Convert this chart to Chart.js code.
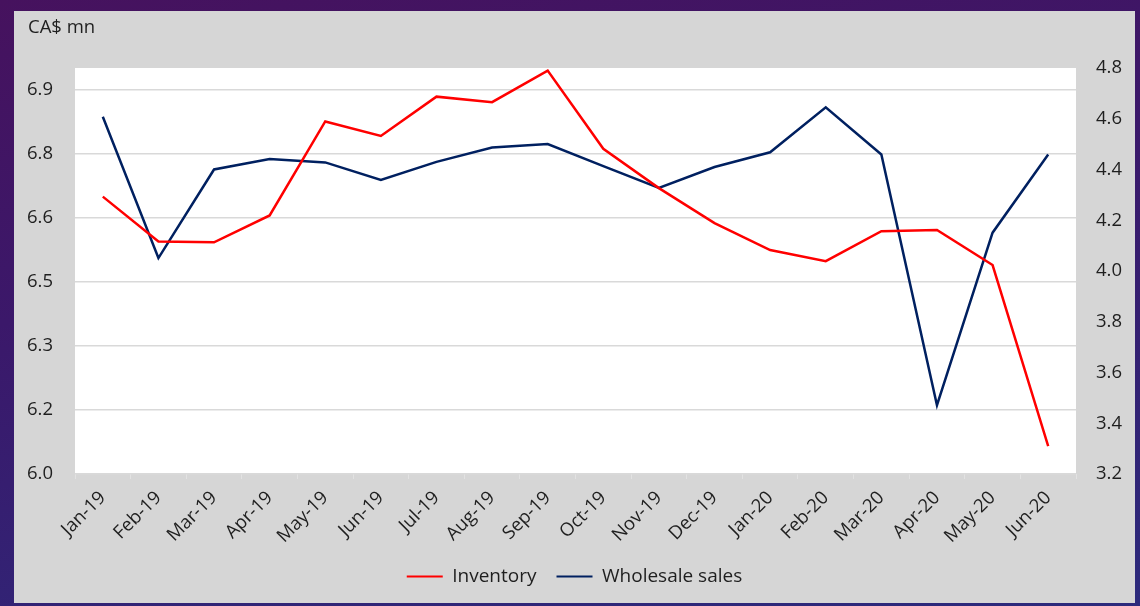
<!DOCTYPE html>
<html>
<head>
<meta charset="utf-8">
<script src="https://cdn.jsdelivr.net/npm/chart.js@4.4.1/dist/chart.umd.min.js"></script>
<style>
  html, body { margin: 0; padding: 0; width: 1140px; height: 606px; overflow: hidden; }
  body { background: linear-gradient(170deg, #46125e 0%, #3b186a 40%, #2c2a7c 100%); }
  #panel { position: absolute; left: 14px; top: 11px; width: 1121px; height: 592px; background: #d6d6d6; }
  canvas { display: block; }
</style>
</head>
<body>
<div id="panel"><canvas id="chart" width="1121" height="592"></canvas></div>
<script>
// Monthly categories
const months = ['Jan-19','Feb-19','Mar-19','Apr-19','May-19','Jun-19','Jul-19','Aug-19','Sep-19',
                'Oct-19','Nov-19','Dec-19','Jan-20','Feb-20','Mar-20','Apr-20','May-20','Jun-20'];

// Inventory (left axis)
const inventory = [6.649, 6.544, 6.542, 6.605, 6.825, 6.791, 6.883, 6.870, 6.944,
                   6.761, 6.669, 6.587, 6.524, 6.498, 6.568, 6.571, 6.489, 6.065];

// Wholesale sales (right axis)
const wholesaleSales = [4.608, 4.051, 4.400, 4.441, 4.428, 4.359, 4.430, 4.487, 4.500,
                        4.413, 4.327, 4.410, 4.468, 4.645, 4.459, 3.471, 4.151, 4.459];

// Axis ticks
const leftTickValues = [6.0, 6.15, 6.3, 6.45, 6.6, 6.75, 6.9];
const leftTickLabels = ['6.0', '6.2', '6.3', '6.5', '6.6', '6.8', '6.9'];
const rightTickValues = [3.2, 3.4, 3.6, 3.8, 4.0, 4.2, 4.4, 4.6, 4.8];
const rightTickLabels = ['3.2', '3.4', '3.6', '3.8', '4.0', '4.2', '4.4', '4.6', '4.8'];
const unitLabel = 'CA$ mn';

const FONT = "'Open Sans', 'Noto Sans', sans-serif";
const TEXT = '#1f1f1f';
const RED = '#ff0000';
const NAVY = '#002060';
const TICK_SIZE = 18.5;

// White plot area
const plotBackground = {
  id: 'plotBackground',
  beforeDraw(chart) {
    const { ctx, chartArea: a } = chart;
    ctx.save();
    ctx.fillStyle = '#ffffff';
    ctx.fillRect(a.left, a.top, a.right - a.left, a.bottom - a.top);
    ctx.restore();
  }
};

// Unit caption above the left axis
const unitCaption = {
  id: 'unitCaption',
  afterDraw(chart) {
    const { ctx } = chart;
    ctx.save();
    ctx.font = TICK_SIZE + 'px ' + FONT;
    ctx.fillStyle = TEXT;
    ctx.textAlign = 'left';
    ctx.textBaseline = 'middle';
    ctx.fillText(unitLabel, 14, 17);
    ctx.restore();
  }
};

function tickLabel(values, labels) {
  return function (value) {
    const i = values.findIndex(v => Math.abs(v - value) < 1e-6);
    return i >= 0 ? labels[i] : '';
  };
}

new Chart(document.getElementById('chart'), {
  type: 'line',
  data: {
    labels: months,
    datasets: [
      {
        label: 'Inventory',
        data: inventory,
        yAxisID: 'yLeft',
        borderColor: RED,
        backgroundColor: RED,
        borderWidth: 2.5,
        pointRadius: 0,
        tension: 0,
        fill: false
      },
      {
        label: 'Wholesale sales',
        data: wholesaleSales,
        yAxisID: 'yRight',
        borderColor: NAVY,
        backgroundColor: NAVY,
        borderWidth: 2.5,
        pointRadius: 0,
        tension: 0,
        fill: false
      }
    ]
  },
  options: {
    responsive: false,
    animation: false,
    devicePixelRatio: 1,
    layout: { padding: { top: 57, left: 0, right: 0, bottom: 7 } },
    plugins: {
      legend: {
        position: 'bottom',
        labels: {
          font: { family: FONT, size: 19 },
          color: TEXT,
          boxWidth: 36,
          boxHeight: 2,
          padding: 20,
          generateLabels(chart) {
            const items = Chart.defaults.plugins.legend.labels.generateLabels(chart);
            items.forEach(it => { it.lineWidth = 0; });
            return items;
          }
        }
      },
      tooltip: { enabled: false },
      title: { display: false }
    },
    scales: {
      x: {
        type: 'category',
        offset: true,
        grid: {
          display: true,
          offset: true,
          drawOnChartArea: false,
          drawTicks: true,
          tickLength: 5,
          color: '#e2e2e2'
        },
        border: { display: false },
        ticks: {
          color: TEXT,
          font: { family: FONT, size: TICK_SIZE },
          minRotation: 45,
          maxRotation: 45,
          autoSkip: false,
          padding: 8
        },
        afterFit(scale) { scale.height = 73; }
      },
      yLeft: {
        type: 'linear',
        position: 'left',
        min: 6.0,
        max: 6.95,
        afterBuildTicks(scale) { scale.ticks = leftTickValues.map(v => ({ value: v })); },
        grid: { color: '#d9d9d9', lineWidth: 1.5, drawTicks: false },
        border: { display: false },
        ticks: {
          color: TEXT,
          font: { family: FONT, size: TICK_SIZE },
          padding: 22,
          callback: tickLabel(leftTickValues, leftTickLabels)
        },
        afterFit(scale) { scale.width = 61; }
      },
      yRight: {
        type: 'linear',
        position: 'right',
        min: 3.2,
        max: 4.8,
        afterBuildTicks(scale) { scale.ticks = rightTickValues.map(v => ({ value: v })); },
        grid: { display: false, drawTicks: false },
        border: { display: false },
        ticks: {
          color: TEXT,
          font: { family: FONT, size: TICK_SIZE },
          padding: 20,
          callback: tickLabel(rightTickValues, rightTickLabels)
        },
        afterFit(scale) { scale.width = 59; }
      }
    }
  },
  plugins: [plotBackground, unitCaption]
});
</script>
</body>
</html>
